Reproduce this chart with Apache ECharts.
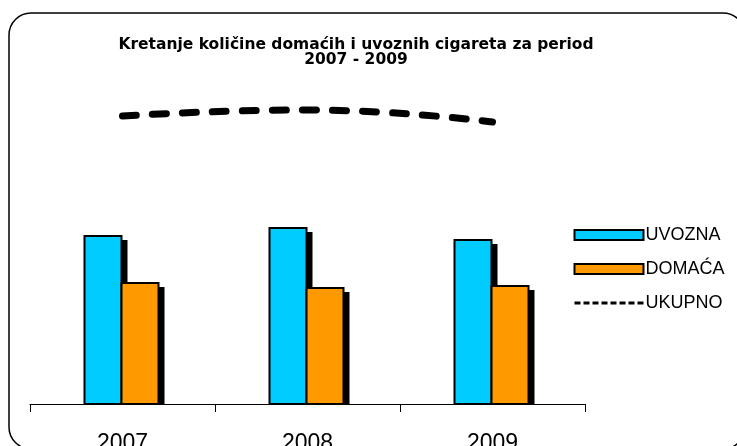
<!DOCTYPE html>
<html lang="hr">
<head>
    <meta charset="utf-8">
    <title>Kretanje količine cigareta</title>
    <style>
        html, body { margin: 0; padding: 0; background: #fff; }
        #chart { width: 737px; height: 446px; }
    </style>
</head>
<body>
<div id="chart"></div>
<script src="https://cdn.jsdelivr.net/npm/echarts@6/dist/echarts.min.js"></script>
<script>
    // podaci ocitani sa slike
    let years = ['2007', '2008', '2009'];
    let uvozna = [168, 176, 164];
    let domaca = [121, 116, 118];
    let ukupno = [288, 294, 282];

    let chart = echarts.init(document.getElementById('chart'));

    // stupac sa crnom sjenom, pomak = polozaj stupca u odnosu na sredinu kategorije
    function shadowBar(color, shift) {
        return function (params, api) {
            let base = api.coord([api.value(0), 0]);
            let top = api.coord([api.value(0), api.value(1)]);
            let w = 37;
            let x = base[0] + shift;
            let h = base[1] - top[1];
            return {
                type: 'group',
                children: [
                    {
                        type: 'rect',
                        shape: { x: x + 6, y: top[1] + 4, width: w, height: h - 4 },
                        style: { fill: '#000' }
                    },
                    {
                        type: 'rect',
                        shape: { x: x, y: top[1], width: w, height: h },
                        style: { fill: color, stroke: '#000', lineWidth: 2 }
                    }
                ]
            };
        };
    }

    function pairs(arr) {
        return arr.map(function (v, i) { return [i, v]; });
    }

    let option = {
        animation: false,
        textStyle: { fontFamily: 'Liberation Sans' },
        title: {
            text: 'Kretanje količine domaćih i uvoznih cigareta za period\n2007 - 2009',
            left: 351,
            top: 32,
            textAlign: 'center',
            textStyle: {
                fontFamily: 'DejaVu Sans',
                fontWeight: 'bold',
                fontSize: 15.5,
                lineHeight: 15,
                color: '#000'
            }
        },
        graphic: [{
            type: 'rect',
            shape: { x: 9, y: 13, width: 736, height: 436, r: 22 },
            style: { fill: 'none', stroke: '#000', lineWidth: 1.5 },
            z: -1
        }],
        legend: {
            orient: 'vertical',
            left: 568,
            top: 221,
            itemWidth: 69,
            itemHeight: 10,
            itemGap: 16,
            textStyle: { fontSize: 18, color: '#000', padding: [0, 0, 0, -3] },
            data: [
                { name: 'UVOZNA', icon: 'rect' },
                { name: 'DOMAĆA', icon: 'rect' },
                { name: 'UKUPNO', itemStyle: { opacity: 0 }, lineStyle: { width: 3, type: [6, 3], cap: 'butt' } }
            ]
        },
        grid: {
            left: 30,
            width: 555,
            top: 104,
            height: 300,
            outerBoundsMode: 'none'
        },
        xAxis: {
            type: 'category',
            data: years,
            axisLine: { lineStyle: { color: '#000', width: 1 } },
            axisTick: { show: true, alignWithLabel: false, length: 8, lineStyle: { color: '#000' } },
            axisLabel: { fontSize: 23, color: '#000', margin: 28 }
        },
        yAxis: {
            type: 'value',
            min: 0,
            max: 300,
            show: false,
            splitLine: { show: false }
        },
        series: [
            {
                name: 'UVOZNA',
                type: 'custom',
                data: pairs(uvozna),
                encode: { x: 0, y: 1 },
                renderItem: shadowBar('#00ccff', -38),
                itemStyle: { color: '#00ccff', borderColor: '#000', borderWidth: 3 }
            },
            {
                name: 'DOMAĆA',
                type: 'custom',
                data: pairs(domaca),
                encode: { x: 0, y: 1 },
                renderItem: shadowBar('#ff9900', -1),
                itemStyle: { color: '#ff9900', borderColor: '#000', borderWidth: 3 }
            },
            {
                name: 'UKUPNO',
                type: 'line',
                data: ukupno,
                smooth: true,
                symbol: 'none',
                itemStyle: { color: '#000' },
                lineStyle: {
                    color: '#000',
                    width: 7,
                    type: [14, 16],
                    cap: 'round'
                },
                z: 5
            }
        ]
    };

    chart.setOption(option);
</script>
</body>
</html>
